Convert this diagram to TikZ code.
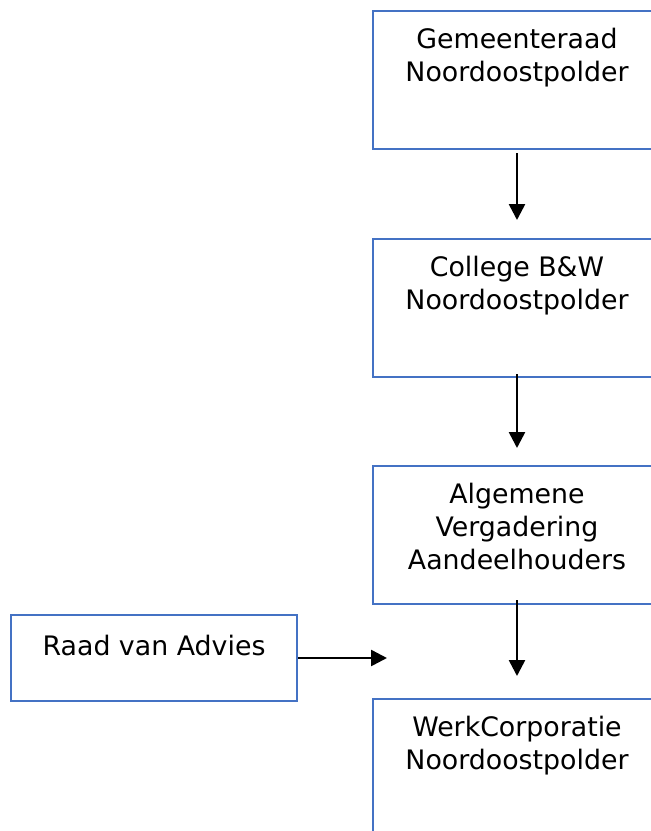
\documentclass[tikz,border=0pt]{standalone}
\usepackage{fontspec}
\setmainfont{DejaVu Sans}
\usetikzlibrary{arrows.meta}
\definecolor{boxblue}{RGB}{68,114,196}
\newcommand{\vaktekst}[3]{\parbox[c][#1][t]{#2}{\centering\rule{0pt}{37pt}#3}}
\tikzset{
  orgbox/.style={draw=boxblue, line width=2pt, inner sep=0pt,
    font=\fontsize{26.8}{33}\selectfont},
  pijl/.style={line width=2.6pt, -{Triangle[length=16pt,width=16pt]}}
}
\begin{document}
\begin{tikzpicture}[x=1pt,y=-1pt]
      \useasboundingbox (0,0) rectangle (651,831);
      \draw
        (517,80) node[orgbox] (gemeente){\vaktekst{138pt}{288pt}{Gemeenteraad\\Noordoostpolder}}
        (517,308) node[orgbox] (college){\vaktekst{138pt}{288pt}{College B\&W\\Noordoostpolder}}
        (517,535) node[orgbox] (avb){\vaktekst{138pt}{288pt}{Algemene\\Vergadering\\Aandeelhouders}}
        (517,768) node[orgbox] (werkcorp){\vaktekst{138pt}{288pt}{WerkCorporatie\\Noordoostpolder}}
        (154,658) node[orgbox] (raad){\vaktekst{86pt}{286pt}{\rule{0pt}{40pt}Raad van Advies}};
      \coordinate (advies) at (387,658);
      \begin{scope}[pijl]
        \draw ([yshift=-3pt]gemeente.south) to ([yshift=18pt]college.north);
        \draw ([yshift=4pt]college.south) to ([yshift=17pt]avb.north);
        \draw ([yshift=5pt]avb.south) to ([yshift=22pt]werkcorp.north);
        \draw (raad.east) to (advies);
      \end{scope}
    \end{tikzpicture}
\end{document}
